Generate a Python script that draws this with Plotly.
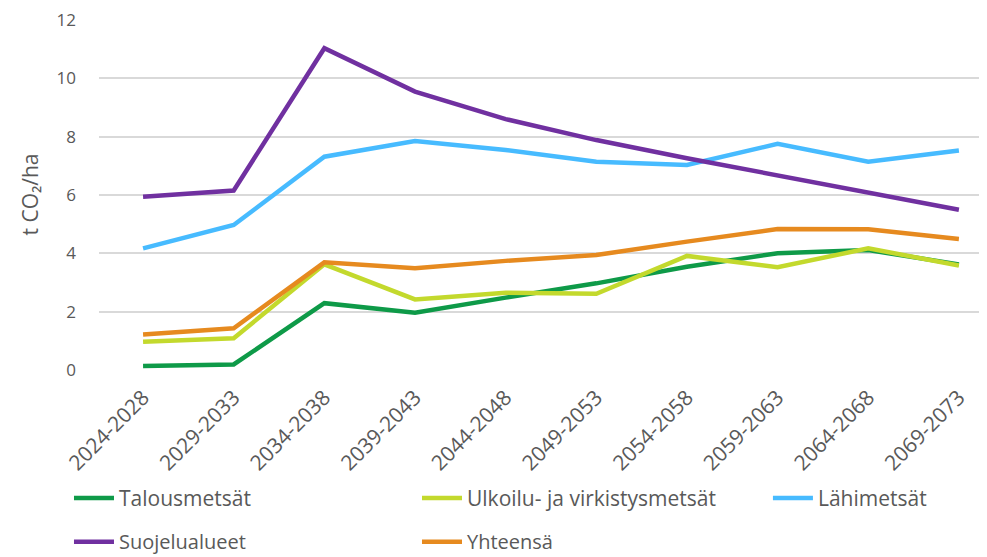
import plotly.graph_objects as go

categories = ["2024-2028", "2029-2033", "2034-2038", "2039-2043", "2044-2048",
              "2049-2053", "2054-2058", "2059-2063", "2064-2068", "2069-2073"]

talousmetsat = [0.14, 0.19, 2.29, 1.96, 2.48, 2.97, 3.54, 4.00, 4.11, 3.62]
ulkoilu = [0.97, 1.09, 3.62, 2.42, 2.65, 2.61, 3.91, 3.52, 4.17, 3.58]
lahimetsat = [4.17, 4.97, 7.31, 7.85, 7.54, 7.14, 7.03, 7.75, 7.14, 7.52]
suojelualueet = [5.94, 6.15, 11.03, 9.54, 8.60, 7.88, 7.26, 6.68, 6.08, 5.49]
yhteensa = [1.22, 1.43, 3.69, 3.49, 3.74, 3.94, 4.40, 4.83, 4.82, 4.49]

FONT = "Open Sans"
GRAY = "#595959"

# name, values, colour, legend id, legend x (paper), legend y (paper), font size
series = [
    ("Talousmetsät", talousmetsat, "#0E9A48", "legend", -0.0338, -0.366, 21),
    ("Ulkoilu- ja virkistysmetsät", ulkoilu, "#C3D92D", "legend2", 0.3581, -0.366, 21),
    ("Lähimetsät", lahimetsat, "#47BBFF", "legend3", 0.7533, -0.366, 21),
    ("Suojelualueet", suojelualueet, "#7030A0", "legend4", -0.0338, -0.489, 20),
    ("Yhteensä", yhteensa, "#E68A1F", "legend5", 0.3581, -0.489, 20),
]

fig = go.Figure()
legends = {}
for name, vals, color, leg, lx, ly, fs in series:
    fig.add_trace(go.Scatter(
        x=categories, y=vals, name=name, mode="lines",
        line=dict(color=color, width=4.5),
        legend=leg,
    ))
    legends[leg] = dict(
        x=lx, y=ly, xanchor="left", yanchor="middle", orientation="h",
        font=dict(family=FONT, size=fs, color=GRAY),
        bgcolor="rgba(0,0,0,0)", itemwidth=40,
    )

# the page body adds an 8px offset, so the figure is 8px smaller and margins compensate
fig.update_layout(
    width=979, height=549,
    paper_bgcolor="white", plot_bgcolor="white",
    margin=dict(l=91, r=0, t=11, b=187, autoexpand=False),
    font=dict(family=FONT, color=GRAY),
    showlegend=True,
    **legends,
    xaxis=dict(
        type="category", range=[-0.486, 9.31],
        showgrid=False, zeroline=False, showline=False,
        tickangle=-45, tickfont=dict(family=FONT, size=21, color=GRAY),
        ticks="", ticklabelstandoff=10, automargin=False,
    ),
    yaxis=dict(
        range=[0, 12.03], dtick=2, tick0=0,
        showgrid=True, gridcolor="#D9D9D9", gridwidth=1.5,
        zeroline=False, showline=False, ticks="",
        tickfont=dict(family=FONT, size=17, color=GRAY),
        ticklabelstandoff=22, automargin=False, ticklabeloverflow="allow",
        title=dict(text="t CO₂/ha", font=dict(family=FONT, size=21, color=GRAY), standoff=12),
    ),
)

fig.write_html("out.html")
